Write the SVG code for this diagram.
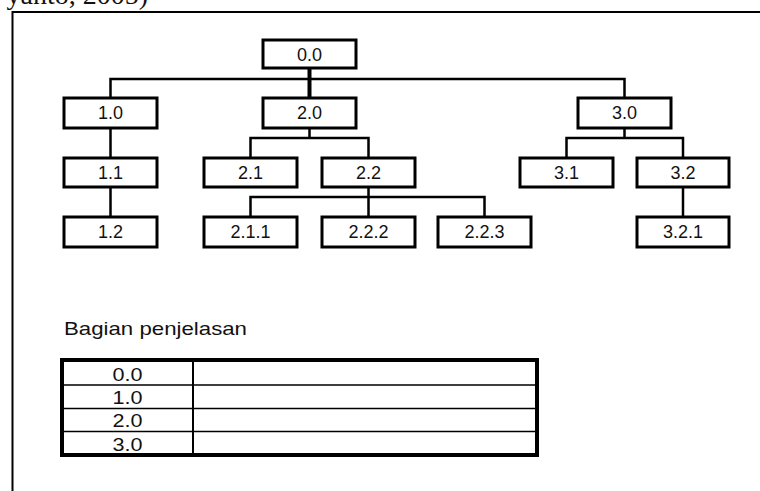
<svg xmlns="http://www.w3.org/2000/svg" width="760" height="491" viewBox="0 0 760 491">
<style>
.box{fill:#fff;stroke:#000;stroke-width:3}
.lbl{font-family:"Liberation Sans",Arial,sans-serif;font-size:18px;fill:#111;text-anchor:middle}
.tl{font-family:"Liberation Sans",Arial,sans-serif;font-size:19px;fill:#111;text-anchor:middle}
.ln{stroke:#000;stroke-width:2.5;fill:none}
.frame{stroke:#000;stroke-width:2;fill:none}
</style>
<rect width="760" height="491" fill="#fff"/>
<text x="148" y="4" font-family="Liberation Serif,serif" font-size="28" fill="#111" text-anchor="end">yanto, 2005)</text>
<path class="frame" d="M12.5,491 V12 H760"/>
<g id="connectors">
<path d="M309.5,68 V98" stroke="#000" stroke-width="4" fill="none"/>
<path class="ln" d="M110.5,98 V79 H624.5 V98"/>
<path class="ln" d="M110.5,128 V158 M110.5,187 V217"/>
<path class="ln" d="M309.5,128 V138 M250.5,158 V138 H368.5 V158"/>
<path class="ln" d="M368.5,187 V197 M250.5,217 V197 H484.5 V217 M368.5,197 V217"/>
<path class="ln" d="M624.5,128 V138 M566.5,158 V138 H683 V158"/>
<path class="ln" d="M683,187 V217"/>
</g>
<g id="n00"><rect class="box" x="263" y="40" width="93" height="28"/><text class="lbl" x="309.5" y="60.5">0.0</text></g>
<g id="n10"><rect class="box" x="64" y="98" width="93" height="30"/><text class="lbl" x="110.5" y="119">1.0</text></g>
<g id="n20"><rect class="box" x="263" y="98" width="93" height="30"/><text class="lbl" x="309.5" y="119">2.0</text></g>
<g id="n30"><rect class="box" x="578" y="98" width="93" height="30"/><text class="lbl" x="624.5" y="119">3.0</text></g>
<g id="n11"><rect class="box" x="64" y="158" width="93" height="29"/><text class="lbl" x="110.5" y="178.5">1.1</text></g>
<g id="n21"><rect class="box" x="204" y="158" width="93" height="29"/><text class="lbl" x="250.5" y="178.5">2.1</text></g>
<g id="n22"><rect class="box" x="322" y="158" width="93" height="29"/><text class="lbl" x="368.5" y="178.5">2.2</text></g>
<g id="n31"><rect class="box" x="520" y="158" width="93" height="29"/><text class="lbl" x="566.5" y="178.5">3.1</text></g>
<g id="n32"><rect class="box" x="637" y="158" width="92" height="29"/><text class="lbl" x="683" y="178.5">3.2</text></g>
<g id="n12"><rect class="box" x="64" y="217" width="93" height="30"/><text class="lbl" x="110.5" y="238">1.2</text></g>
<g id="n211"><rect class="box" x="204" y="217" width="93" height="30"/><text class="lbl" x="250.5" y="238">2.1.1</text></g>
<g id="n222"><rect class="box" x="322" y="217" width="93" height="30"/><text class="lbl" x="368.5" y="238">2.2.2</text></g>
<g id="n223"><rect class="box" x="438" y="217" width="93" height="30"/><text class="lbl" x="484.5" y="238">2.2.3</text></g>
<g id="n321"><rect class="box" x="637" y="217" width="92" height="30"/><text class="lbl" x="683" y="238">3.2.1</text></g>
<text x="64" y="335" font-family="Liberation Sans,Arial,sans-serif" font-size="19" fill="#111" textLength="183" lengthAdjust="spacingAndGlyphs">Bagian penjelasan</text>
<g id="table">
<path d="M62,385 H537 M62,408.5 H537 M62,431.5 H537" stroke="#000" stroke-width="1.5"/>
<path d="M193,360 V455" stroke="#000" stroke-width="2"/>
<rect x="62" y="360" width="475" height="95" fill="none" stroke="#000" stroke-width="4"/>
<text class="tl" x="127.5" y="381" textLength="30" lengthAdjust="spacingAndGlyphs">0.0</text>
<text class="tl" x="127.5" y="404" textLength="30" lengthAdjust="spacingAndGlyphs">1.0</text>
<text class="tl" x="127.5" y="427" textLength="30" lengthAdjust="spacingAndGlyphs">2.0</text>
<text class="tl" x="127.5" y="450.5" textLength="30" lengthAdjust="spacingAndGlyphs">3.0</text>
</g>
</svg>
